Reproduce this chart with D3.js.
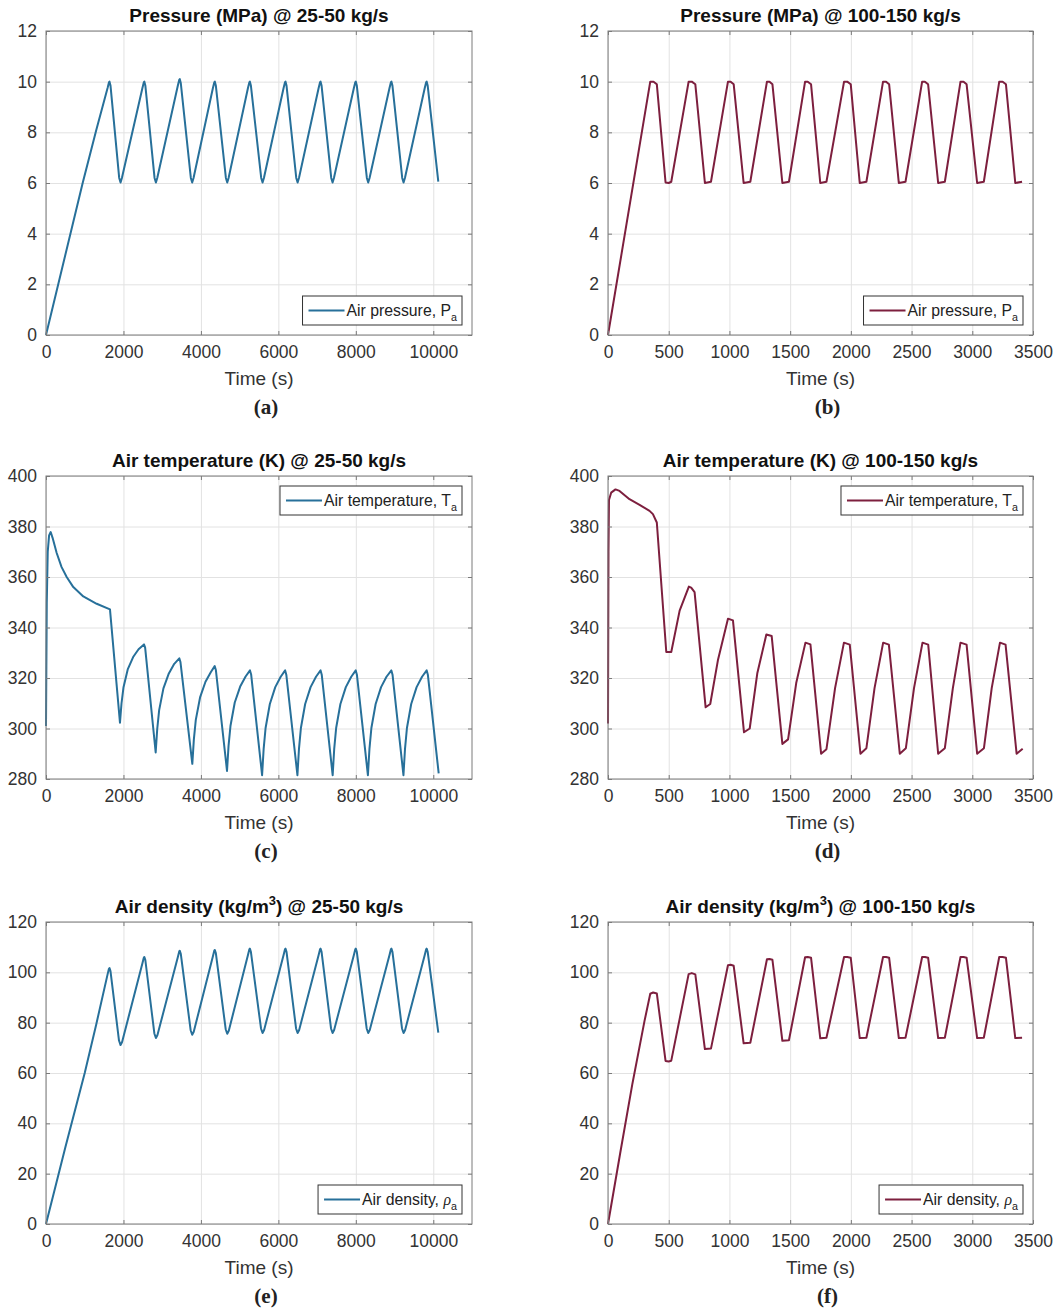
<!DOCTYPE html>
<html>
<head>
<meta charset="utf-8">
<script src="https://cdn.jsdelivr.net/npm/d3@7"></script>
<style>
  body { margin: 0; background: #fff; }
  svg { display: block; font-family: "Liberation Sans", Arial, sans-serif; }
</style>
</head>
<body>
<script>
// Tick values
const xTicksLow = [0, 2000, 4000, 6000, 8000, 10000];
const xTicksHigh = [0, 500, 1000, 1500, 2000, 2500, 3000, 3500];
const yTicksPressure = [0, 2, 4, 6, 8, 10, 12];
const yTicksTemperature = [280, 300, 320, 340, 360, 380, 400];
const yTicksDensity = [0, 20, 40, 60, 80, 100, 120];

// Series: [time (s), value]
const pressureLow = [
  [0, 0], [947, 6], [1300, 8.1], [1590, 9.75], [1625, 9.97], [1640, 10], [1665, 9.85], [1890, 6.2], [1925, 6.02],
  [1960, 6.2], [2490, 9.75], [2525, 9.97], [2540, 10], [2565, 9.85], [2803, 6.2], [2838, 6.02],
  [2873, 6.2], [3405, 9.85], [3440, 10.07], [3455, 10.1], [3480, 9.95], [3740, 6.2], [3775, 6.02],
  [3810, 6.2], [4310, 9.75], [4345, 9.97], [4360, 10], [4385, 9.85], [4645, 6.2], [4680, 6.02],
  [4715, 6.2], [5215, 9.75], [5250, 9.97], [5265, 10], [5290, 9.85], [5557, 6.2], [5592, 6.02],
  [5627, 6.2], [6135, 9.75], [6170, 9.97], [6185, 10], [6210, 9.85], [6462, 6.2], [6497, 6.02],
  [6532, 6.2], [7040, 9.75], [7075, 9.97], [7090, 10], [7115, 9.85], [7365, 6.2], [7400, 6.02],
  [7435, 6.2], [7950, 9.75], [7985, 9.97], [8000, 10], [8025, 9.85], [8285, 6.2], [8320, 6.02],
  [8355, 6.2], [8870, 9.75], [8905, 9.97], [8920, 10], [8945, 9.85], [9198, 6.2], [9233, 6.02],
  [9268, 6.2], [9780, 9.75], [9815, 9.97], [9830, 10], [9855, 9.85], [10130, 6.05]
];

const pressureHigh = [
  [0, 0], [348, 10], [375, 10], [402, 9.9], [474, 6.02], [500, 6], [521, 6.05],
  [664, 10], [690, 10], [719, 9.9], [798, 6], [848, 6.05],
  [988, 10], [1010, 10], [1035, 9.9], [1117, 6], [1172, 6.05],
  [1309, 10], [1330, 10], [1354, 9.9], [1436, 6], [1490, 6.05],
  [1623, 10], [1645, 10], [1672, 9.9], [1748, 6], [1799, 6.05],
  [1944, 10], [1970, 10], [1999, 9.9], [2073, 6], [2128, 6.05],
  [2265, 10], [2290, 10], [2315, 9.9], [2395, 6], [2450, 6.05],
  [2587, 10], [2610, 10], [2636, 9.9], [2719, 6], [2774, 6.05],
  [2903, 10], [2928, 10], [2953, 9.9], [3040, 6], [3095, 6.05],
  [3222, 10], [3250, 10], [3277, 9.9], [3354, 6], [3410, 6.05]
];

const temperatureLow = [
  [0, 301], [20, 350], [45, 370], [80, 376.5], [121, 377.8], [170, 375.5], [276, 369.5], [400, 364], [534, 360],
  [705, 356], [963, 352.3], [1309, 349.4], [1652, 347.2],
  [1910, 302.3], [1950, 310], [2000, 316.2], [2110, 323.4], [2250, 328.3], [2390, 331.4], [2530, 333.3], [2560, 332],
  [2832, 290.5], [2872, 299.8], [2922, 307.3], [3032, 315.9], [3172, 321.8], [3312, 325.6], [3442, 327.8], [3472, 326.3],
  [3778, 286], [3818, 295.7], [3868, 303.4], [3978, 312.3], [4118, 318.5], [4258, 322.4], [4356, 324.7], [4386, 323.2],
  [4674, 283.2], [4714, 293.2], [4764, 301.1], [4874, 310.3], [5014, 316.6], [5154, 320.6], [5267, 323], [5297, 321.4],
  [5580, 281.5], [5620, 291.9], [5670, 300.2], [5780, 309.7], [5920, 316.4], [6060, 320.5], [6175, 323], [6205, 321.3],
  [6492, 281.5], [6532, 291.9], [6582, 300.2], [6692, 309.7], [6832, 316.4], [6972, 320.5], [7090, 323], [7120, 321.3],
  [7402, 281.5], [7442, 291.9], [7492, 300.2], [7602, 309.7], [7742, 316.4], [7882, 320.5], [7998, 323], [8028, 321.3],
  [8312, 281.5], [8352, 291.9], [8402, 300.2], [8512, 309.7], [8652, 316.4], [8792, 320.5], [8918, 323], [8948, 321.3],
  [9230, 281.5], [9270, 291.9], [9320, 300.2], [9430, 309.7], [9570, 316.4], [9710, 320.5], [9830, 323], [9860, 321.3],
  [10140, 282.2]
];

const temperatureHigh = [
  [0, 302], [4, 370], [8, 390.5], [26, 393.4], [62, 394.7], [95, 394.1], [177, 390.8], [260, 388.6], [342, 386.2],
  [370, 384.9], [402, 381.6], [480, 330.3], [521, 330.3],
  [590, 346.7], [666, 356.2], [685, 355.8], [713, 354], [804, 308.4], [842, 309.7],
  [905, 327], [988, 343.5], [1029, 342.8], [1120, 298.5], [1167, 300],
  [1230, 322], [1304, 337.2], [1348, 336.6], [1436, 293.9], [1483, 295.7],
  [1550, 318], [1626, 334], [1667, 333.3], [1755, 290], [1799, 291.8],
  [1870, 316], [1943, 334], [1991, 333.2], [2079, 290], [2128, 292.2],
  [2195, 316], [2266, 334], [2313, 333.2], [2403, 290], [2453, 292.2],
  [2520, 316], [2590, 334], [2637, 333.2], [2719, 290], [2774, 292.2],
  [2840, 316], [2903, 334], [2953, 333.2], [3040, 290], [3096, 292.2],
  [3160, 316], [3228, 334], [3274, 333.2], [3365, 290], [3415, 292]
];

const densityLow = [
  [0, 0], [500, 30.5], [1000, 60], [1300, 79.5], [1590, 99.2], [1625, 101.4], [1640, 101.7], [1665, 100.5], [1885, 72.9], [1925, 71.1],
  [1965, 72.3], [2490, 103.6], [2525, 105.8], [2540, 106.1], [2565, 104.9], [2798, 75.7], [2838, 73.9],
  [2878, 75.1], [3405, 106.1], [3440, 108.3], [3455, 108.6], [3480, 107.4], [3735, 77], [3775, 75.2],
  [3815, 76.4], [4310, 106.4], [4345, 108.6], [4360, 108.9], [4385, 107.7], [4640, 77.4], [4680, 75.6],
  [4720, 76.8], [5215, 106.9], [5250, 109.1], [5265, 109.4], [5290, 108.2], [5552, 77.7], [5592, 75.9],
  [5632, 77.1], [6135, 106.9], [6170, 109.1], [6185, 109.4], [6210, 108.2], [6457, 77.7], [6497, 75.9],
  [6537, 77.1], [7040, 106.9], [7075, 109.1], [7090, 109.4], [7115, 108.2], [7360, 77.7], [7400, 75.9],
  [7440, 77.1], [7950, 106.9], [7985, 109.1], [8000, 109.4], [8025, 108.2], [8280, 77.7], [8320, 75.9],
  [8360, 77.1], [8870, 106.9], [8905, 109.1], [8920, 109.4], [8945, 108.2], [9193, 77.7], [9233, 75.9],
  [9273, 77.1], [9780, 106.9], [9815, 109.1], [9830, 109.4], [9855, 108.2], [10130, 76]
];

const densityHigh = [
  [0, 0], [100, 28], [200, 55.5], [300, 80.5], [348, 91.5], [372, 92], [402, 91.6], [474, 64.8], [500, 64.6], [521, 64.9],
  [664, 99.3], [690, 99.7], [719, 99.2], [798, 69.5], [848, 69.7],
  [988, 102.8], [1010, 103], [1035, 102.6], [1117, 71.8], [1172, 72],
  [1309, 105.2], [1330, 105.3], [1354, 105], [1436, 72.8], [1490, 73],
  [1623, 106], [1645, 106.1], [1672, 105.8], [1748, 73.8], [1799, 74],
  [1944, 106.1], [1970, 106.1], [1999, 105.8], [2073, 73.9], [2128, 74],
  [2265, 106.1], [2290, 106.1], [2315, 105.8], [2395, 73.9], [2450, 74],
  [2587, 106.1], [2610, 106.1], [2636, 105.8], [2719, 73.9], [2774, 74],
  [2903, 106.1], [2928, 106.1], [2953, 105.8], [3040, 73.9], [3095, 74],
  [3222, 106.1], [3250, 106.1], [3277, 105.8], [3354, 73.9], [3410, 74]
];

// Layout
const width = 1057, height = 1310;
const colX = [[46, 472], [608, 1033]];
const rowY = [[31, 335], [476, 779], [922, 1224]];
const blue = '#27709a';
const red = '#7d1f3e';

const legendPressure = [{ t: 'Air pressure, P' }, { t: 'a', sub: true }];
const legendTemperature = [{ t: 'Air temperature, T' }, { t: 'a', sub: true }];
const legendDensity = [{ t: 'Air density, ' }, { t: 'ρ', italic: true }, { t: 'a', sub: true }];

const panels = [
  { label: '(a)', col: 0, row: 0, title: [{ t: 'Pressure (MPa) @ 25-50 kg/s' }], data: pressureLow,
    xDomain: [0, 11000], xTicks: xTicksLow, yDomain: [0, 12], yTicks: yTicksPressure, color: blue, legend: legendPressure, legendTop: false },
  { label: '(b)', col: 1, row: 0, title: [{ t: 'Pressure (MPa) @ 100-150 kg/s' }], data: pressureHigh,
    xDomain: [0, 3500], xTicks: xTicksHigh, yDomain: [0, 12], yTicks: yTicksPressure, color: red, legend: legendPressure, legendTop: false },
  { label: '(c)', col: 0, row: 1, title: [{ t: 'Air temperature (K) @ 25-50 kg/s' }], data: temperatureLow,
    xDomain: [0, 11000], xTicks: xTicksLow, yDomain: [280, 400], yTicks: yTicksTemperature, color: blue, legend: legendTemperature, legendTop: true },
  { label: '(d)', col: 1, row: 1, title: [{ t: 'Air temperature (K) @ 100-150 kg/s' }], data: temperatureHigh,
    xDomain: [0, 3500], xTicks: xTicksHigh, yDomain: [280, 400], yTicks: yTicksTemperature, color: red, legend: legendTemperature, legendTop: true },
  { label: '(e)', col: 0, row: 2, title: [{ t: 'Air density (kg/m' }, { t: '3', sup: true }, { t: ') @ 25-50 kg/s' }], data: densityLow,
    xDomain: [0, 11000], xTicks: xTicksLow, yDomain: [0, 120], yTicks: yTicksDensity, color: blue, legend: legendDensity, legendTop: false },
  { label: '(f)', col: 1, row: 2, title: [{ t: 'Air density (kg/m' }, { t: '3', sup: true }, { t: ') @ 100-150 kg/s' }], data: densityHigh,
    xDomain: [0, 3500], xTicks: xTicksHigh, yDomain: [0, 120], yTicks: yTicksDensity, color: red, legend: legendDensity, legendTop: false }
];

const svg = d3.select('body').append('svg')
  .attr('width', width)
  .attr('height', height);

svg.append('rect').attr('width', width).attr('height', height).attr('fill', '#fff');

// write text made of plain / sub / sup / italic parts
function richText(sel, parts, size) {
  let shift = 0;
  parts.forEach(p => {
    const target = p.sub ? 5 : p.sup ? -8 : 0;
    const ts = sel.append('tspan').text(p.t).attr('dy', target - shift);
    shift = target;
    if (p.sub || p.sup) ts.attr('font-size', size * 0.68);
    if (p.italic) ts.attr('font-style', 'italic').attr('font-family', '"Liberation Serif", serif');
  });
}

const tickFont = 17.5;
const fmt = d3.format('d');

panels.forEach(p => {
  const [x0, x1] = colX[p.col];
  const [y1, y0] = rowY[p.row];
  const x = d3.scaleLinear().domain(p.xDomain).range([x0, x1]);
  const y = d3.scaleLinear().domain(p.yDomain).range([y0, y1]);
  const g = svg.append('g');

  // grid
  g.append('g')
    .attr('transform', `translate(0,${y0})`)
    .call(d3.axisBottom(x).tickValues(p.xTicks).tickSize(-(y0 - y1)).tickFormat(''))
    .call(s => s.select('.domain').remove())
    .selectAll('line').attr('stroke', '#e2e2e2');
  g.append('g')
    .attr('transform', `translate(${x0},0)`)
    .call(d3.axisLeft(y).tickValues(p.yTicks).tickSize(-(x1 - x0)).tickFormat(''))
    .call(s => s.select('.domain').remove())
    .selectAll('line').attr('stroke', '#e2e2e2');

  // data line
  const line = d3.line().x(d => x(d[0])).y(d => y(d[1]));
  g.append('path')
    .datum(p.data)
    .attr('d', line)
    .attr('fill', 'none')
    .attr('stroke', p.color)
    .attr('stroke-width', 2)
    .attr('stroke-linejoin', 'round');

  // box
  g.append('rect')
    .attr('x', x0).attr('y', y1)
    .attr('width', x1 - x0).attr('height', y0 - y1)
    .attr('fill', 'none').attr('stroke', '#7a7a7a').attr('stroke-width', 1);

  // axes with inward ticks
  const styleAxis = s => {
    s.select('.domain').remove();
    s.selectAll('line').attr('stroke', '#7a7a7a');
    s.selectAll('text').attr('font-size', tickFont).attr('fill', '#333').attr('font-family', '"Liberation Sans", Arial, sans-serif');
  };
  g.append('g').attr('transform', `translate(0,${y0})`)
    .call(d3.axisBottom(x).tickValues(p.xTicks).tickFormat(fmt).tickSizeInner(-4).tickSizeOuter(0).tickPadding(11))
    .call(styleAxis);
  g.append('g').attr('transform', `translate(${x0},0)`)
    .call(d3.axisLeft(y).tickValues(p.yTicks).tickFormat(fmt).tickSizeInner(-4).tickSizeOuter(0).tickPadding(9))
    .call(styleAxis);
  g.append('g').attr('transform', `translate(0,${y1})`)
    .call(d3.axisTop(x).tickValues(p.xTicks).tickSizeInner(-4).tickSizeOuter(0).tickFormat(''))
    .call(styleAxis);
  g.append('g').attr('transform', `translate(${x1},0)`)
    .call(d3.axisRight(y).tickValues(p.yTicks).tickSizeInner(-4).tickSizeOuter(0).tickFormat(''))
    .call(styleAxis);

  // title
  const title = g.append('text')
    .attr('x', (x0 + x1) / 2).attr('y', y1 - 9)
    .attr('text-anchor', 'middle')
    .attr('font-size', 19).attr('font-weight', 'bold').attr('fill', '#111');
  richText(title, p.title, 19);

  // x label
  g.append('text')
    .attr('x', (x0 + x1) / 2).attr('y', y0 + 50)
    .attr('text-anchor', 'middle')
    .attr('font-size', 19).attr('fill', '#333')
    .text('Time (s)');

  // panel label
  g.append('text')
    .attr('x', (x0 + x1) / 2 + 7).attr('y', y0 + 79)
    .attr('text-anchor', 'middle')
    .attr('font-family', '"Liberation Serif", serif')
    .attr('font-size', 21).attr('font-weight', 'bold').attr('fill', '#222')
    .text(p.label);

  // legend
  const lh = 29;
  const ly = p.legendTop ? y1 + 10 : y0 - 10 - lh;
  const lg = g.append('g');
  const rect = lg.append('rect').attr('y', ly).attr('height', lh)
    .attr('fill', '#fff').attr('stroke', '#333').attr('stroke-width', 1);
  const lt = lg.append('text').attr('y', ly + lh / 2 + 5)
    .attr('font-size', 15.8).attr('fill', '#222');
  richText(lt, p.legend, 15.8);
  const tw = lt.node().getBBox().width;
  const lw = 44 + tw + 5;
  const lx = x1 - 10 - lw;
  rect.attr('x', lx).attr('width', lw);
  lt.attr('x', lx + 44);
  lt.selectAll('tspan').filter((d, i) => i === 0).attr('x', lx + 44);
  lg.append('line')
    .attr('x1', lx + 6).attr('x2', lx + 42)
    .attr('y1', ly + lh / 2).attr('y2', ly + lh / 2)
    .attr('stroke', p.color).attr('stroke-width', 2);
});
</script>
</body>
</html>
